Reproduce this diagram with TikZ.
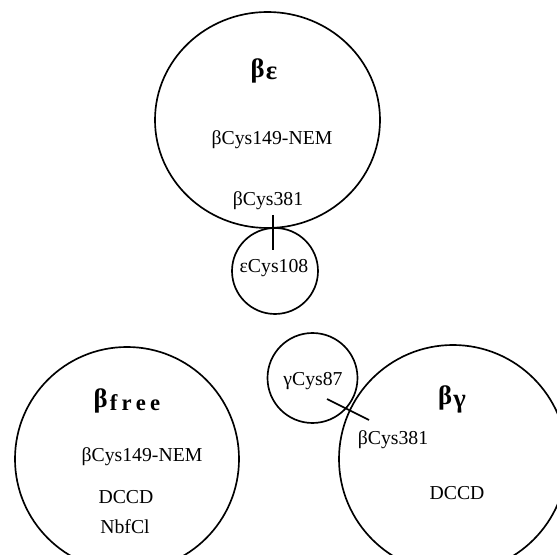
\documentclass[tikz,border=0pt]{standalone}
\usepackage{fontspec}
\setmainfont{Liberation Serif}
\usetikzlibrary{shapes.geometric}
\begin{document}
\begin{tikzpicture}[x=0.75pt,y=-0.75pt,
  ring/.style={draw, line width=1.25pt, circle, inner sep=0pt},
  oval/.style={draw, line width=1.25pt, ellipse, inner sep=0pt},
  lbl/.style={font=\fontsize{14.8}{16}\selectfont, inner sep=0pt},
  head/.style={font=\fontsize{20}{22}\bfseries\selectfont, inner sep=0pt},
  link/.style={line width=1.25pt}]
\useasboundingbox (0,0) rectangle (557,555);
\clip (0,0) rectangle (557,555);
% circles
\node[oval, minimum width=168.75pt, minimum height=162pt] (be) at (267.5,120) {};
\node[ring, minimum size=64.5pt] (eps) at (275,271) {};
\node[ring, minimum size=168pt] (bfree) at (127,459) {};
\node[ring, minimum size=171pt] (bg) at (453,459) {};
\node[ring, minimum size=67.5pt] (gam) at (312.5,378) {};
% headings
\node[head] (hbe) at (264,71) {β\kern1pt\raisebox{-0.2ex}{ε}};
\node[head] (hbfree) at (127,401) {β\kern1.5pt\raisebox{-0.25ex}{\fontsize{17}{18}\selectfont f\kern3.2pt r\kern3.2pt e\kern3.2pt e}};
\node[head] (hbg) at (452,399) {β\kern1pt\raisebox{-0.25ex}{γ}};
% labels
\node[lbl] (t1) at (272,140) {βCys149-NEM};
\node[lbl] (t2) at (268,201) {βCys381};
\node[lbl] (t3) at (274,268) {εCys108};
\node[lbl] (t4) at (142,457) {βCys149-NEM};
\node[lbl] (t5) at (126,497) {DCCD};
\node[lbl] (t6) at (125,527) {NbfCl};
\node[lbl] (t7) at (313,381) {γCys87};
\node[lbl] (t8) at (393,440) {βCys381};
\node[lbl] (t9) at (457,493) {DCCD};
% connectors
\coordinate (a1) at (273,215);
\coordinate (a2) at (273,250);
\coordinate (b1) at (327,399);
\coordinate (b2) at (369,420);
\draw[link] (a1) -- (a2);
\draw[link] (b1) -- (b2);
\end{tikzpicture}
\end{document}
